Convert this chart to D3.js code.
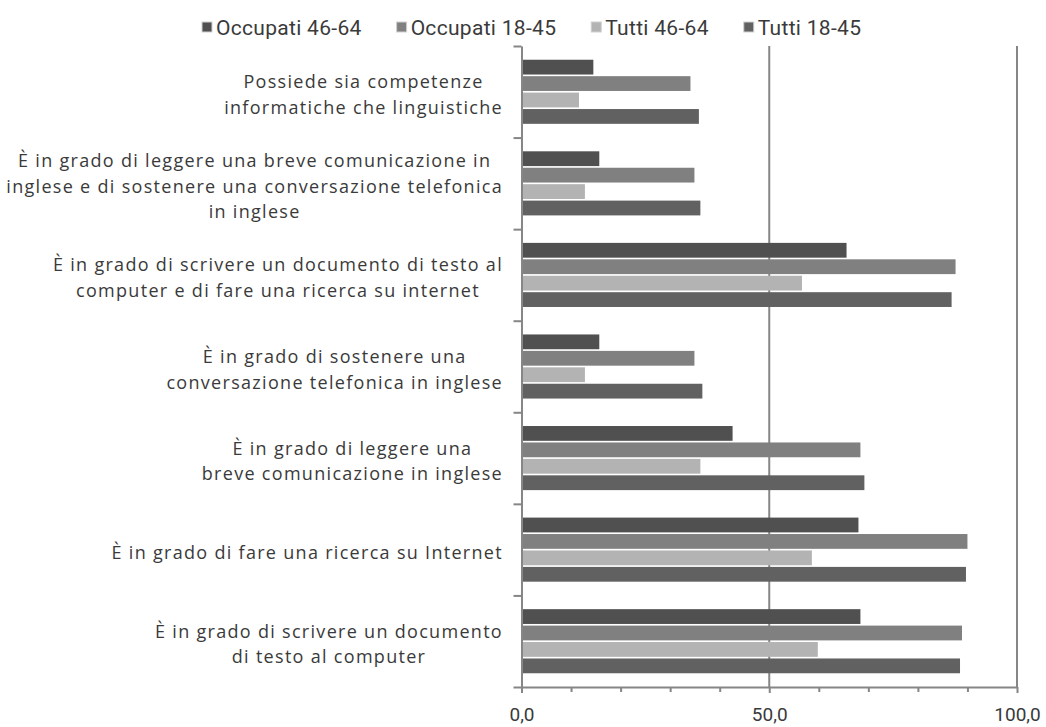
<!DOCTYPE html>
<html>
<head>
<meta charset="utf-8">
<script src="https://cdn.jsdelivr.net/npm/d3@7/dist/d3.min.js"></script>
<style>
  html, body { margin: 0; padding: 0; background: #ffffff; }
  svg { display: block; }
</style>
</head>
<body>
<svg id="chart" width="1046" height="727"></svg>
<script>
// Category labels (top to bottom); "|" marks a line break in the label
const categories = [
  "Possiede sia competenze|informatiche che linguistiche",
  "È in grado di leggere una breve comunicazione in|inglese e di sostenere una conversazione telefonica|in inglese",
  "È in grado di scrivere un documento di testo al|computer e di fare una ricerca su internet",
  "È in grado di sostenere una|conversazione telefonica in inglese",
  "È in grado di leggere una|breve comunicazione in inglese",
  "È in grado di fare una ricerca su Internet",
  "È in grado di scrivere un documento|di testo al computer"
];

// Series names, in the order bars are stacked inside each group
const seriesNames = ["Occupati 46-64", "Occupati 18-45", "Tutti 46-64", "Tutti 18-45"];
const seriesColors = ["#505050", "#808080", "#b3b3b3", "#616161"];

// Percentages per category
const occupati4664 = [14.5, 15.7, 65.6, 15.7, 42.6, 68.0, 68.4];
const occupati1845 = [34.1, 34.9, 87.6, 34.9, 68.4, 90.0, 88.9];
const tutti4664    = [11.6, 12.8, 56.6, 12.8, 36.1, 58.6, 59.8];
const tutti1845    = [35.8, 36.1, 86.8, 36.5, 69.2, 89.7, 88.5];

// Axis tick values
const majorTicks = [0, 50, 100];
const minorTicks = [10, 20, 30, 40, 60, 70, 80, 90];

const seriesValues = [occupati4664, occupati1845, tutti4664, tutti1845];

const svg = d3.select("#chart");
const plot = { left: 521.5, right: 1017, top: 46, bottom: 687 };
const axisColor = "#868686";
const textColor = "#3a3a3a";

const itLocale = d3.formatLocale({ decimal: ",", thousands: ".", grouping: [3], currency: ["", " €"] });
const fmt = itLocale.format(".1f");

const x = d3.scaleLinear().domain([0, 100]).range([plot.left, plot.right]);
const y0 = d3.scaleBand().domain(d3.range(categories.length))
  .range([plot.top, plot.bottom]).paddingInner(0.3).paddingOuter(0.15);
const y1 = d3.scaleBand().domain(d3.range(seriesNames.length))
  .range([0, y0.bandwidth()]).paddingInner(0.1);

// Vertical gridlines at the major values (drawn beneath the bars)
svg.append("g")
  .selectAll("line")
  .data(majorTicks.filter(v => v > 0))
  .join("line")
  .attr("x1", d => x(d)).attr("x2", d => x(d))
  .attr("y1", plot.top).attr("y2", plot.bottom)
  .attr("stroke", axisColor).attr("stroke-width", 2);

// Bars
const groups = svg.append("g")
  .selectAll("g")
  .data(categories.map((c, i) => ({ c, i })))
  .join("g")
  .attr("transform", d => `translate(0,${y0(d.i)})`);

groups.selectAll("rect")
  .data(d => seriesValues.map((vals, s) => ({ s, v: vals[d.i] })))
  .join("rect")
  .attr("x", x(0))
  .attr("y", d => y1(d.s))
  .attr("width", d => x(d.v) - x(0))
  .attr("height", y1.bandwidth())
  .attr("fill", d => seriesColors[d.s]);

// Bottom axis: minor ticks
svg.append("g")
  .attr("transform", `translate(0,${plot.bottom})`)
  .call(d3.axisBottom(x).tickValues(minorTicks).tickSize(5).tickFormat(""))
  .call(g => g.select(".domain").remove())
  .call(g => g.selectAll(".tick line").attr("stroke", axisColor).attr("stroke-width", 2));

// Bottom axis: major ticks and labels
svg.append("g")
  .attr("transform", `translate(0,${plot.bottom})`)
  .call(d3.axisBottom(x).tickValues(majorTicks).tickSizeInner(6).tickSizeOuter(0).tickPadding(15).tickFormat(fmt))
  .call(g => g.select(".domain").attr("stroke", axisColor).attr("stroke-width", 2))
  .call(g => g.selectAll(".tick line").attr("stroke", axisColor).attr("stroke-width", 2))
  .call(g => g.selectAll(".tick text")
    .attr("fill", textColor)
    .style("font-family", "Roboto, sans-serif")
    .style("font-size", "19px"));

// Left axis: ticks at category boundaries
const yEdge = d3.scaleLinear().domain([0, categories.length]).range([plot.top, plot.bottom]);
svg.append("g")
  .attr("transform", `translate(${plot.left},0)`)
  .call(d3.axisLeft(yEdge).tickValues(d3.range(categories.length + 1)).tickSizeInner(8).tickSizeOuter(0).tickFormat(""))
  .call(g => g.select(".domain").attr("stroke", axisColor).attr("stroke-width", 2))
  .call(g => g.selectAll(".tick line").attr("stroke", axisColor).attr("stroke-width", 2));

// Category labels: lines centred on each other, block right-aligned to the axis
const labelRight = 503;
const lineHeight = 25.5;
const labelG = svg.append("g")
  .style("font-family", "'Open Sans', sans-serif")
  .style("font-size", "18px")
  .style("letter-spacing", "1.3px")
  .attr("fill", textColor);

categories.forEach((c, i) => {
  const lines = c.split("|");
  const cy = y0(i) + y0.bandwidth() / 2 + 3;
  const t = labelG.append("text").attr("text-anchor", "middle");
  const spans = lines.map((ln, k) => t.append("tspan")
    .attr("y", cy + (k - (lines.length - 1) / 2) * lineHeight)
    .attr("dy", "0.35em")
    .text(ln));
  const maxW = d3.max(spans, s => s.node().getComputedTextLength());
  spans.forEach(s => s.attr("x", labelRight - maxW / 2));
});

// Legend
const legend = svg.append("g")
  .style("font-family", "Roboto, sans-serif")
  .style("font-size", "21px")
  .style("letter-spacing", "0.3px");
let lx = 202;
seriesNames.forEach((name, s) => {
  const item = legend.append("g");
  item.append("rect")
    .attr("x", lx).attr("y", 22).attr("width", 10).attr("height", 10)
    .attr("fill", seriesColors[s])
    .attr("stroke", "#d0d0d0").attr("stroke-width", 1);
  const t = item.append("text")
    .attr("x", lx + 14).attr("y", 35)
    .attr("fill", textColor)
    .text(name);
  lx += 14 + t.node().getComputedTextLength() + 35;
});
</script>
</body>
</html>
